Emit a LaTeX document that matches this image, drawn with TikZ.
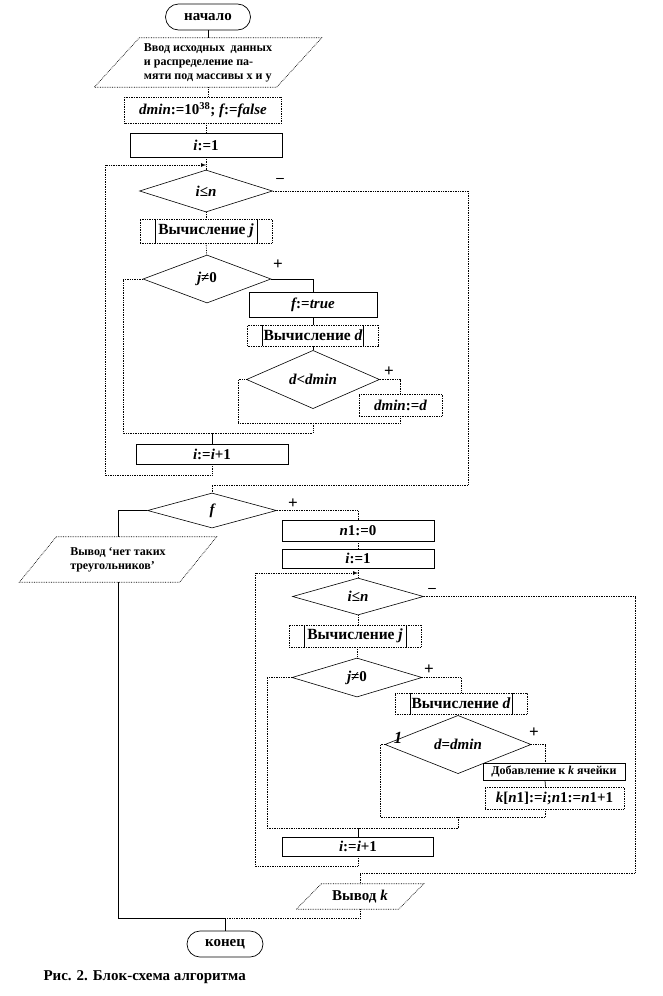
\documentclass[tikz,border=0pt]{standalone}
\usepackage{fontspec}
\setmainfont{Liberation Serif}
\usetikzlibrary{shapes.geometric}
\begin{document}
\begin{tikzpicture}[x=1pt,y=-1pt,font=\bfseries\fontsize{15}{17}\selectfont,
		flow/.style={line width=0.7pt},
		dflow/.style={line width=0.7pt,densely dotted},
		termbox/.style={draw,line width=0.7pt,rounded corners=13pt,inner sep=0pt,minimum width=#1,minimum height=26pt},
		procbox/.style 2 args={draw,line width=0.7pt,inner sep=0pt,minimum width=#1,minimum height=#2},
		dprocbox/.style 2 args={procbox={#1}{#2},densely dotted},
		subbox/.style 2 args={procbox={#1}{#2},densely dotted,font=\bfseries\fontsize{15.5}{18}\selectfont,path picture={
				\draw[flow,solid] ([xshift=15pt]path picture bounding box.north west) -- ([xshift=15pt]path picture bounding box.south west);
				\draw[flow,solid] ([xshift=-15pt]path picture bounding box.north east) -- ([xshift=-15pt]path picture bounding box.south east);}},
		condbox/.style 2 args={draw,diamond,line width=0.6pt,inner sep=0pt,minimum width=#1,minimum height=#2},
		iobox/.style 2 args={inner sep=0pt,minimum width=#1,minimum height=#2},
		smalltext/.style={font=\bfseries\fontsize{12}{14}\selectfont},
		signtext/.style={font=\bfseries\fontsize{17}{19}\selectfont}]
		\useasboundingbox (0,0) rectangle (662,996);
		
		%first loop
		\node[termbox=85pt] (start) at (208,17) {начало};
		\node[iobox={182pt}{49pt},smalltext,align=left] (input) at (208,62.5) {Ввод исходных\ \ данных\\и распределение па-\\мяти под массивы x и y};
		\draw[dflow] ([xshift=22.5pt]input.north west) -- ([xshift=22.5pt]input.north east) -- ([xshift=-22.5pt]input.south east) -- ([xshift=-22.5pt]input.south west) -- cycle;
		\node[dprocbox={157pt}{26pt}] (init) at (203,110) {{\itshape dmin}:=10\textsuperscript{38}; {\itshape f}:={\itshape false}};
		\node[procbox={152pt}{24pt}] (iset) at (206,145) {{\itshape i}:=1};
		\coordinate (ret1) at (206,165);
		\node[condbox={133pt}{42pt}] (cond1) at (206,191) {{\itshape i}≤{\itshape n}};
		\node (minus1) at (280,180) {–};
		\node[subbox={132pt}{24pt}] (calcj1) at (206,231) {Вычисление {\itshape j}};
		\node[condbox={128pt}{48pt}] (cond2) at (207,279) {{\itshape j}≠0};
		\node[signtext] (plus1) at (278,265) {+};
		\node[procbox={128pt}{25pt}] (fset) at (313,304.5) {{\itshape f}:={\itshape true}};
		\node[subbox={131pt}{21pt}] (calcd1) at (313,335.5) {Вычисление {\itshape d}};
		\node[condbox={133pt}{45pt}] (cond3) at (313,379.5) {{\itshape d}<{\itshape dmin}};
		\node[signtext] (plus2) at (389,372) {+};
		\node[dprocbox={83pt}{22pt}] (dset) at (400.5,405) {{\itshape dmin}:={\itshape d}};
		\coordinate (m1l) at (238,423);
		\coordinate (m2l) at (123,433);
		\node[procbox={152pt}{20pt}] (inc1) at (212,454) {{\itshape i}:={\itshape i}+1};
		\coordinate (back1) at (105,475);
		\coordinate (e1) at (468,485);
		
		\draw[flow] (start) -- (input);
		\draw[dflow] (input.south) -- (input.south |- init.north);
		\draw[dflow] (init.south -| iset) -- (iset);
		\draw[dflow] (iset) -- (cond1);
		\draw[dflow] (cond1) -- (calcj1);
		\draw[dflow] (calcj1) -- (cond2);
		\draw[flow] (cond2.east) -| (fset.north);
		\draw[flow] (fset) -- (calcd1);
		\draw[flow] (calcd1) -- (cond3);
		\draw[dflow] (cond3.east) -| (dset.north);
		\draw[dflow] (cond3.west) -| (m1l);
		\draw[dflow] (dset.south) |- (m1l);
		\draw[dflow] (m1l -| cond3) -- (m2l -| cond3);
		\draw[dflow] (cond2.west) -| (m2l) -- (m2l -| cond3);
		\draw[flow] (m2l -| inc1) -- (inc1);
		\draw[dflow,-latex] (inc1.south) |- (back1) |- (ret1);
		
		%second loop
		\node[condbox={129pt}{35pt}] (fcond) at (212,510.5) {{\itshape f}};
		\node[signtext] (plus3) at (293,504) {+};
		\node[iobox={160pt}{45pt},smalltext,align=left] (outno) at (118,559.5) {Вывод ‘нет таких\\треугольников’};
		\draw[dflow] ([xshift=18.5pt]outno.north west) -- ([xshift=18.5pt]outno.north east) -- ([xshift=-18.5pt]outno.south east) -- ([xshift=-18.5pt]outno.south west) -- cycle;
		\node[procbox={152pt}{21pt}] (n10) at (358,530.5) {{\itshape n}1:=0};
		\node[procbox={152pt}{19pt}] (iset2) at (358,558.5) {{\itshape i}:=1};
		\coordinate (ret2) at (358,573);
		\node[condbox={131pt}{37pt}] (cond4) at (358,596.5) {{\itshape i}≤{\itshape n}};
		\node (minus2) at (432,590) {–};
		\node[subbox={132pt}{22pt}] (calcj2) at (355,636) {Вычисление {\itshape j}};
		\node[condbox={130pt}{39pt}] (cond5) at (357,677.5) {{\itshape j}≠0};
		\node[signtext] (plus4) at (429,670) {+};
		\node[subbox={132pt}{21pt}] (calcd2) at (461,703.5) {Вычисление {\itshape d}};
		\node[condbox={146pt}{35pt}] (cond6) at (458,744.5) {{\itshape d}={\itshape dmin}};
		\node[signtext] (lab1) at (398,738) {{\itshape 1}};
		\node[signtext] (plus5) at (534,733) {+};
		\node[procbox={142pt}{17pt},smalltext] (addk) at (554,771.5) {Добавление к {\itshape k} ячейки};
		\node[dprocbox={139pt}{22pt}] (kset) at (554.5,798) {{\itshape k}[{\itshape n}1]:={\itshape i};{\itshape n}1:={\itshape n}1+1};
		\coordinate (m3l) at (380,817);
		\coordinate (m4l) at (267,828);
		\node[procbox={151pt}{19pt}] (inc2) at (358,846.5) {{\itshape i}:={\itshape i}+1};
		\coordinate (back2) at (255,866);
		\coordinate (e2) at (635,873);
		\node[iobox={102pt}{25pt}] (outk) at (360,896.5) {Вывод {\itshape k}};
		\draw[dflow] ([xshift=12.5pt]outk.north west) -- ([xshift=12.5pt]outk.north east) -- ([xshift=-12.5pt]outk.south east) -- ([xshift=-12.5pt]outk.south west) -- cycle;
		\coordinate (jend) at (225,918);
		\node[termbox=76pt] (stop) at (225,944) {конец};
		\node[anchor=west] (caption) at (40,977) {Рис. 2. Блок-схема алгоритма};
		
		\draw[dflow] (cond1.east) -| (e1) -| (fcond.north);
		\draw[flow] (fcond.west) -| (outno.north);
		\draw[dflow] (fcond.east) -| (n10.north);
		\draw[dflow] (n10) -- (iset2);
		\draw[dflow] (iset2) -- (cond4);
		\draw[dflow] (cond4.south) -- (cond4.south |- calcj2.north);
		\draw[dflow] (calcj2.south -| cond5) -- (cond5);
		\draw[dflow] (cond5.east) -| (calcd2.north);
		\draw[flow] (calcd2.south -| cond6) -- (cond6);
		\draw[dflow] (cond6.east) -| ([xshift=-9pt]addk.north);
		\draw[flow] ([xshift=-9pt]addk.south) -- ([xshift=-9pt]kset.north);
		\draw[dflow] (cond6.west) -| (m3l);
		\draw[dflow] ([xshift=-9pt]kset.south) |- (m3l);
		\draw[dflow] (m3l -| cond6) -- (m4l -| cond6);
		\draw[dflow] (cond5.west) -| (m4l) -- (m4l -| cond6);
		\draw[flow] (m4l -| inc2) -- (inc2);
		\draw[dflow,-latex] (inc2.south) |- (back2) |- (ret2);
		\draw[dflow] (cond4.east) -| (e2) -| (outk.north);
		\draw[flow] (outno.south) |- (jend);
		\draw[dflow] (outk.south) |- (jend);
		\draw[flow] (jend) -- (stop);
\end{tikzpicture}
\end{document}
